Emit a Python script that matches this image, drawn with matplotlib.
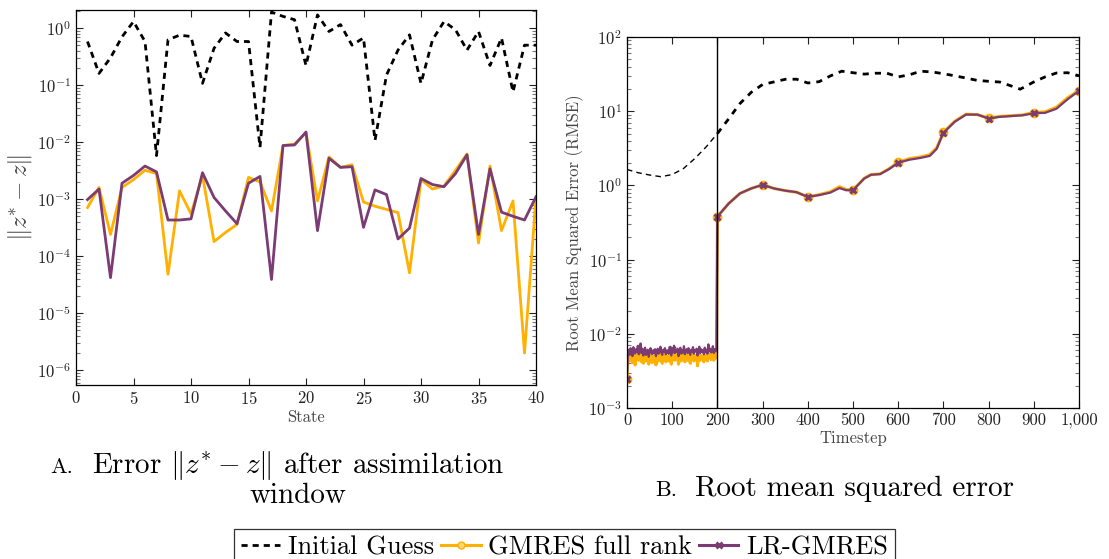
import numpy as np
import matplotlib
matplotlib.use("Agg")
import matplotlib.pyplot as plt
from matplotlib.ticker import LogLocator, FixedLocator, FixedFormatter, NullFormatter

plt.rcParams['font.family'] = 'serif'
plt.rcParams['font.serif'] = ['cmr10', 'DejaVu Serif']
plt.rcParams['mathtext.fontset'] = 'cm'
plt.rcParams['axes.formatter.use_mathtext'] = True

ORANGE = '#FFB000'
PURPLE = '#7B3B73'

# ---- panel A: error per state ----
state = np.arange(1, 41)
err_initial = [0.58, 0.16, 0.30, 0.70, 1.30, 0.58, 0.0058, 0.62, 0.75, 0.71,
               0.107, 0.44, 0.82, 0.58, 0.58, 0.0081, 1.90, 1.60, 1.40, 0.22,
               1.70, 0.87, 1.15, 0.50, 0.67, 0.0107, 0.15, 0.41, 0.76, 0.107,
               0.62, 1.30, 0.93, 0.41, 0.87, 0.22, 0.67, 0.076, 0.50, 0.50]
err_gmres = [7.1e-4, 1.6e-3, 2.4e-4, 1.6e-3, 2.2e-3, 3.2e-3, 2.8e-3, 4.8e-5, 1.4e-3, 5.5e-4,
             2.6e-3, 1.8e-4, 2.6e-4, 3.6e-4, 2.4e-3, 2.0e-3, 6.2e-4, 8.7e-3, 9.2e-3, 1.45e-2,
             9.3e-4, 5.5e-3, 3.6e-3, 4.0e-3, 8.9e-4, 7.5e-4, 6.6e-4, 5.8e-4, 5.1e-5, 2.2e-3,
             1.5e-3, 1.7e-3, 3.2e-3, 6.2e-3, 1.7e-4, 3.8e-3, 2.8e-4, 9.3e-4, 2.0e-6, 1.07e-3]
err_lr = [9.8e-4, 1.5e-3, 4.2e-5, 1.9e-3, 2.6e-3, 3.8e-3, 3.0e-3, 4.3e-4, 4.3e-4, 4.5e-4,
          2.9e-3, 1.07e-3, 6.2e-4, 3.7e-4, 1.9e-3, 2.5e-3, 3.9e-5, 8.7e-3, 8.9e-3, 1.5e-2,
          2.8e-4, 5.2e-3, 3.6e-3, 3.7e-3, 3.2e-4, 1.45e-3, 1.2e-3, 2.0e-4, 3.1e-4, 2.3e-3,
          1.8e-3, 1.65e-3, 2.8e-3, 6.0e-3, 2.4e-4, 3.4e-3, 5.9e-4, 5.0e-4, 4.3e-4, 1.1e-3]

# ---- panel B: RMSE over time ----
t_init = [0, 25, 50, 75, 100, 125, 150, 175, 200, 225, 250, 275, 300, 325, 350, 375,
          400, 425, 450, 475, 500, 525, 550, 575, 600, 625, 650, 675, 700, 725, 750,
          775, 800, 825, 850, 870, 900, 925, 950, 975, 1000]
rmse_init = [1.64, 1.48, 1.38, 1.31, 1.40, 1.69, 2.3, 3.3, 5.0, 7.9, 12.7, 18.0, 22.9,
             24.8, 26.9, 27.0, 24.0, 25.0, 29.9, 34.6, 33.0, 31.6, 32.5, 32.5, 29.0, 31.0,
             34.6, 33.8, 32.0, 30.0, 28.0, 26.0, 25.3, 24.7, 21.9, 19.8, 24.8, 29.0, 32.7,
             33.0, 30.0]

t_start = [0]
rmse_start = [2.45e-3]

# assimilation window noise (x 1e-3), every second timestep
t_noise = np.arange(2, 200, 2)
noise_lr = [5.6, 6.1, 5.2, 6.4, 5.8, 5.0, 6.6, 5.9, 5.4, 6.2,
            5.7, 6.9, 5.3, 6.0, 7.4, 5.5, 6.3, 5.1, 5.9, 6.5,
            5.2, 5.8, 6.1, 4.9, 5.6, 6.4, 5.7, 5.3, 6.0, 5.5,
            6.2, 5.0, 5.8, 6.3, 5.4, 5.9, 6.7, 5.6, 5.2, 6.1,
            5.7, 6.4, 5.3, 5.9, 6.0, 5.4, 6.6, 5.8, 5.1, 6.2,
            5.6, 6.9, 5.5, 6.1, 5.7, 6.3, 5.0, 5.9, 6.5, 5.4,
            6.0, 5.6, 6.8, 5.3, 5.9, 6.2, 5.5, 6.4, 5.8, 5.2,
            6.1, 5.7, 6.6, 5.4, 6.0, 5.8, 6.3, 5.1, 5.9, 6.7,
            5.5, 6.2, 5.8, 6.0, 5.3, 6.5, 5.7, 6.1, 5.4, 7.2,
            5.9, 6.3, 5.6, 6.0, 6.8, 5.5, 6.2, 5.8, 6.4]
noise_gmres = [4.8, 5.2, 4.3, 5.5, 4.9, 4.1, 5.3, 4.7, 3.8, 5.0,
               4.6, 5.4, 4.4, 4.9, 5.8, 4.2, 5.1, 4.0, 4.8, 5.3,
               4.3, 4.7, 5.0, 3.9, 4.6, 5.2, 4.5, 4.1, 4.9, 4.4,
               5.1, 3.8, 4.7, 5.2, 4.3, 4.8, 5.5, 4.5, 4.0, 5.0,
               4.6, 5.3, 4.2, 4.8, 4.9, 4.3, 5.4, 4.7, 3.9, 5.1,
               4.5, 5.6, 4.4, 5.0, 4.6, 5.2, 3.9, 4.8, 5.3, 4.3,
               4.9, 4.5, 5.5, 4.2, 4.8, 5.1, 4.4, 5.2, 4.7, 4.0,
               5.0, 4.6, 5.4, 4.3, 4.9, 4.7, 5.2, 3.7, 4.8, 5.5,
               4.4, 5.1, 4.7, 4.9, 4.2, 5.3, 4.6, 5.0, 4.3, 5.9,
               4.8, 5.2, 4.5, 4.9, 5.6, 4.4, 5.1, 4.7, 5.3]

t_after = [200, 225, 250, 275, 300, 325, 350, 375, 400, 425, 450, 470, 485, 500, 525,
           540, 560, 580, 600, 625, 650, 670, 685, 700, 725, 750, 775, 800, 825, 850,
           875, 900, 925, 950, 975, 1000]
rmse_lr_after = [0.38, 0.57, 0.78, 0.91, 1.02, 0.91, 0.85, 0.81, 0.70, 0.74, 0.80, 0.92,
                 0.86, 0.86, 1.24, 1.39, 1.42, 1.66, 2.02, 2.22, 2.35, 2.50, 3.1, 5.1, 7.2,
                 9.0, 9.0, 7.95, 8.4, 8.6, 8.8, 9.4, 9.5, 10.8, 14.5, 18.8]
rmse_gmres_after = [0.38, 0.57, 0.78, 0.91, 1.02, 0.91, 0.85, 0.81, 0.70, 0.75, 0.82, 0.96,
                    0.88, 0.87, 1.25, 1.40, 1.43, 1.68, 2.05, 2.30, 2.42, 2.60, 3.2, 5.2, 7.3,
                    9.1, 9.0, 8.1, 8.5, 8.7, 8.9, 9.6, 9.8, 11.3, 15.2, 19.0]

marker_times = [0, 100, 200, 300, 400, 500, 600, 700, 800, 900, 1000]

t_full = np.concatenate([t_start, t_noise, t_after])
rmse_lr = np.concatenate([rmse_start, np.array(noise_lr) * 1e-3, rmse_lr_after])
rmse_gmres = np.concatenate([rmse_start, np.array(noise_gmres) * 1e-3, rmse_gmres_after])
mark_idx = [int(np.where(t_full == m)[0][0]) for m in marker_times]

fig = plt.figure(figsize=(11.09, 5.59), dpi=100)
W, H = 1109, 559
ax1 = fig.add_axes([76 / W, 1 - 385 / H, 460 / W, 375 / H])
ax2 = fig.add_axes([627 / W, 1 - 408 / H, 452 / W, 371 / H])


def style(ax):
    ax.set_yscale('log')
    ax.tick_params(which='both', direction='in', top=True, right=True,
                   labelsize=12, colors='#222222', width=0.8)
    ax.tick_params(which='major', length=5)
    ax.tick_params(which='minor', length=3, color='#777777')
    ax.yaxis.set_minor_locator(LogLocator(base=10, subs=np.arange(2, 10), numticks=20))
    ax.yaxis.set_minor_formatter(NullFormatter())
    for s in ax.spines.values():
        s.set_linewidth(0.9)


# panel A
ax1.plot(state, err_initial, color='black', lw=2.0, ls=(0, (2.2, 1.8)))
ax1.plot(state, err_gmres, color=ORANGE, lw=2.0)
ax1.plot(state, err_lr, color=PURPLE, lw=2.0)
style(ax1)
ax1.set_xlim(0, 40)
ax1.set_ylim(5.5e-7, 2.07)
ax1.xaxis.set_major_locator(FixedLocator(np.arange(0, 41, 5)))
ax1.yaxis.set_major_locator(LogLocator(base=10, numticks=20))
ax1.set_xlabel('State', fontsize=12, color='#444444', labelpad=2)
ax1.set_ylabel(r'$\|z^{*}-z\|$', fontsize=18, color='#444444', labelpad=2)

# panel B
m200 = np.array(t_init) <= 200
ax2.plot(np.array(t_init)[m200], np.array(rmse_init)[m200], color='black', lw=1.0,
         ls=(0, (4, 3)))
ax2.plot(np.array(t_init)[~m200 | (np.array(t_init) == 200)],
         np.array(rmse_init)[~m200 | (np.array(t_init) == 200)],
         color='black', lw=2.0, ls=(0, (2.2, 2.2)))
ax2.plot(t_full, rmse_gmres, color=ORANGE, lw=2.2, marker='o', ms=6,
         mfc=ORANGE, mec=ORANGE, markevery=mark_idx)
ax2.plot(t_full, rmse_lr, color=PURPLE, lw=1.6, marker='x', ms=4, mew=2,
         markevery=mark_idx)
ax2.axvline(200, color='black', lw=1.0)
style(ax2)
ax2.set_xlim(0, 1000)
ax2.set_ylim(1e-3, 1e2)
ax2.xaxis.set_major_locator(FixedLocator(marker_times))
ax2.xaxis.set_major_formatter(FixedFormatter([str(m) for m in marker_times[:-1]] + ['1,000']))
ax2.yaxis.set_major_locator(LogLocator(base=10, numticks=20))
ax2.set_xlabel('Timestep', fontsize=12, color='#444444', labelpad=2)
ax2.set_ylabel('Root Mean Squared Error (RMSE)', fontsize=12, color='#444444', labelpad=3)

# captions
fig.text(50 / W, 1 - 467 / H, 'A.', fontsize=16, va='center', ha='left')
fig.text(92 / W, 1 - 466 / H, r'Error $\|z^{*}-z\|$ after assimilation', fontsize=21,
         va='center', ha='left')
fig.text(298 / W, 1 - 496 / H, 'window', fontsize=21, va='center', ha='center')
fig.text(655 / W, 1 - 490 / H, 'B.', fontsize=16, va='center', ha='left')
fig.text(695 / W, 1 - 489 / H, 'Root mean squared error', fontsize=21, va='center', ha='left')

# legend
h1, = ax1.plot([], [], color='black', lw=2.0, ls=(0, (2.2, 1.8)))
h2, = ax1.plot([], [], color=ORANGE, lw=2.2, marker='o', ms=5, mfc='#FFD870', mec=ORANGE)
h3, = ax1.plot([], [], color=PURPLE, lw=2.2, marker='x', ms=4, mew=2)
leg = fig.legend([h1, h2, h3], ['Initial Guess', 'GMRES full rank', 'LR-GMRES'],
                 loc='lower center', bbox_to_anchor=(0.509, -0.012), ncol=3, fontsize=19,
                 frameon=True, fancybox=False, edgecolor='black', handlelength=1.5,
                 handletextpad=0.3, columnspacing=0.25, borderpad=0.25, borderaxespad=0)
leg.get_frame().set_linewidth(0.9)

fig.savefig('out.png', dpi=100)
